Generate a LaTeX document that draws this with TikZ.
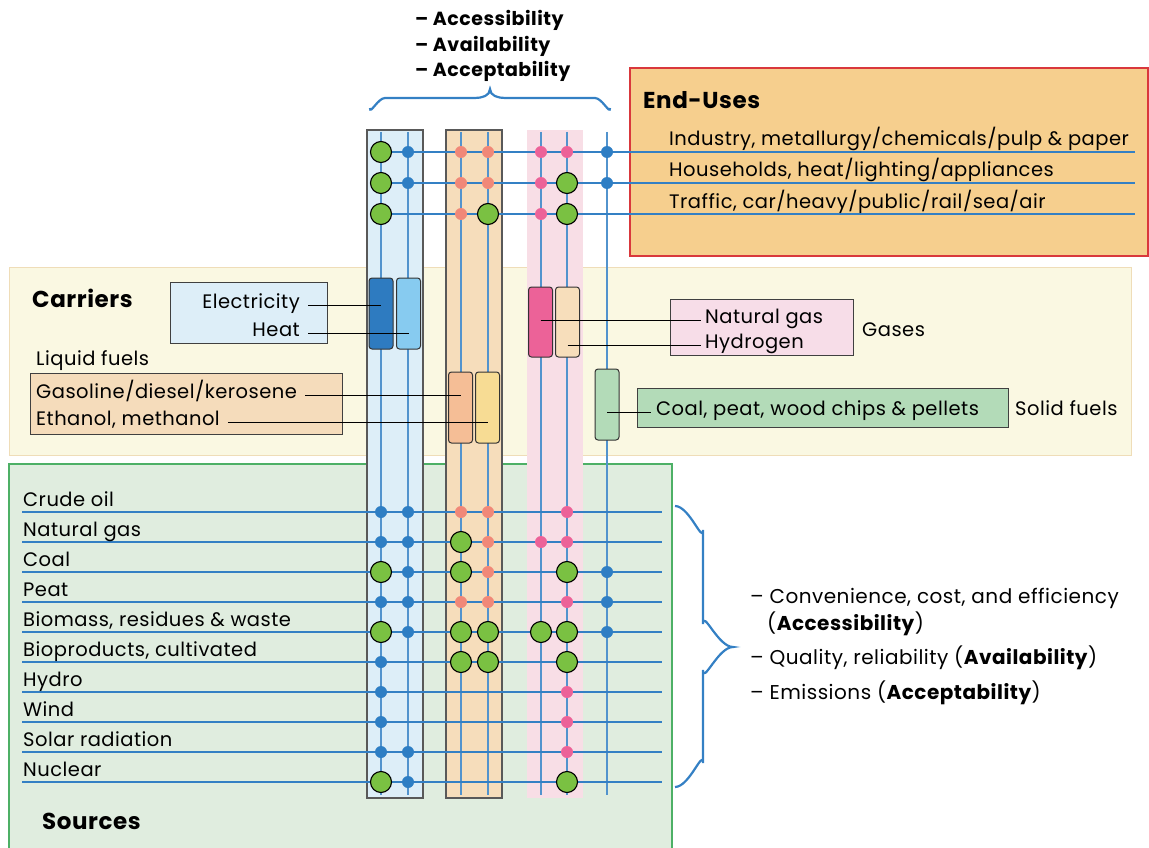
\documentclass[tikz,border=0pt]{standalone}
\usepackage{fontspec}
\setmainfont{Poppins}[LetterSpace=2.5]
\definecolor{lblue}{RGB}{52,128,196}
\definecolor{dblue}{RGB}{46,126,196}
\definecolor{dsalmon}{RGB}{240,136,120}
\definecolor{dpink}{RGB}{236,98,152}
\definecolor{dgreen}{RGB}{122,193,66}
\definecolor{colblue}{RGB}{221,238,248}
\definecolor{colorange}{RGB}{246,221,187}
\definecolor{colpink}{RGB}{248,222,230}
\definecolor{endfill}{RGB}{246,207,142}
\definecolor{endred}{RGB}{217,56,60}
\definecolor{carfill}{RGB}{250,248,226}
\definecolor{carline}{RGB}{239,221,184}
\definecolor{srcfill}{RGB}{224,237,223}
\definecolor{srcline}{RGB}{77,176,102}
\definecolor{elecc}{RGB}{46,123,192}
\definecolor{heatc}{RGB}{135,203,240}
\definecolor{ngasc}{RGB}{236,98,152}
\definecolor{hydc}{RGB}{247,222,187}
\definecolor{gasoc}{RGB}{245,190,150}
\definecolor{ethc}{RGB}{247,220,148}
\definecolor{solidc}{RGB}{179,219,184}
\definecolor{gasesbox}{RGB}{247,221,232}
\definecolor{liqbox}{RGB}{245,220,187}
\definecolor{elecbox}{RGB}{221,238,248}
\tikzset{
  x=1pt,y=-1pt,
  txt/.style={inner sep=0pt,anchor=base west,font=\fontsize{19.5}{22}\selectfont},
  txtr/.style={txt,anchor=base east},
  rtxt/.style={txt,font=\fontsize{20}{22}\selectfont},
  ttl/.style={inner sep=0pt,anchor=base west,font=\fontsize{23}{26}\selectfont\bfseries},
  qtxt/.style={txt,font=\fontsize{19}{22}\selectfont\bfseries},
  hline/.style={draw=lblue,line width=1.1pt},
  vline/.style={draw=lblue!85!white,line width=1.1pt},
  conn/.style={draw=black,line width=1pt},
  brace/.style={draw=lblue,line width=2.2pt},
  carbox/.style={draw=black!80,line width=1pt,rounded corners=3pt,minimum width=24pt,minimum height=71pt,inner sep=0pt},
  dotG/.style={circle,fill=dgreen,draw=black,line width=1.1pt,minimum size=21pt,inner sep=0pt},
  dotB/.style={circle,fill=dblue,minimum size=12pt,inner sep=0pt},
  dotS/.style={circle,fill=dsalmon,minimum size=12pt,inner sep=0pt},
  dotP/.style={circle,fill=dpink,minimum size=12pt,inner sep=0pt},
  dot0/.style={inner sep=0pt,minimum size=0pt},
}
\begin{document}
\begin{tikzpicture}
\useasboundingbox (0,0) rectangle (1149,848);
% panels
\fill[endfill] (630,68) rectangle (1148,256);
\draw[endred,line width=1.2pt] (630,68) rectangle (1148,256);
\filldraw[fill=carfill,draw=carline,line width=1pt] (9,267) rectangle (1131,455);
\filldraw[fill=srcfill,draw=srcline,line width=1.2pt] (9,464) rectangle (672,850);
% column boxes
\filldraw[fill=colblue,draw=black!65,line width=1.2pt] (367,130) rectangle (423,798);
\filldraw[fill=colorange,draw=black!65,line width=1.2pt] (446,130) rectangle (502,798);
\fill[colpink] (527,130) rectangle (583,798);
% vertical lines
\foreach \x [count=\i] in {381,408,461,488,541,567,607} {
  \coordinate (ct\i) at (\x,132);
  \coordinate (cb\i) at (\x,795);
  \draw[vline] (ct\i) -- (cb\i);
}
% end-use lines and labels
\node[ttl] (enduses) at (643,109) {End-Uses};
\foreach \y/\t [count=\i] in {152/{Industry, metallurgy/chemicals/pulp \& paper},183/{Households, heat/lighting/appliances},214/{Traffic, car/heavy/public/rail/sea/air}} {
  \coordinate (el\i) at (381,\y);
  \coordinate (er\i) at (1135,\y);
  \draw[hline] (el\i) -- (er\i);
  \node[txt] (eu\i) at (669,\y-6) {\t};
}
% source lines and labels
\foreach \y/\t [count=\i] in {512/Crude oil,542/Natural gas,572/Coal,602/Peat,632/{Biomass, residues \& waste},662/{Bioproducts, cultivated},692/Hydro,722/Wind,752/Solar radiation,782/Nuclear} {
  \coordinate (sl\i) at (22,\y);
  \coordinate (sr\i) at (662,\y);
  \draw[hline] (sl\i) -- (sr\i);
  \node[txt] (src\i) at (23,\y-6) {\t};
}
\node[ttl] (sources) at (42,829) {Sources};
\node[ttl] (carriers) at (32,307) {Carriers};
% carrier label boxes
\filldraw[fill=elecbox,draw=black!75,line width=1pt] (170,282) rectangle (327,343);
\node[txtr] (lelec) at (300,308) {Electricity};
\node[txtr] (lheat) at (300,336) {Heat};
\node[txt] (lliq) at (36,365) {Liquid fuels};
\filldraw[fill=liqbox,draw=black!75,line width=1pt] (30,373) rectangle (342,434);
\node[txt] (lgaso) at (36,398) {Gasoline/diesel/kerosene};
\node[txt] (leth) at (36,425) {Ethanol, methanol};
\filldraw[fill=gasesbox,draw=black!75,line width=1pt] (670,299) rectangle (853,355);
\node[txt] (lngas) at (705,323) {Natural gas};
\node[txt] (lhyd) at (705,348) {Hydrogen};
\node[txt] (lgases) at (862,336) {Gases};
\filldraw[fill=solidc,draw=black!75,line width=1pt] (637,388) rectangle (1008,427);
\node[txt] (lsolid) at (656,415) {Coal, peat, wood chips \& pellets};
\node[txt] (lsolidf) at (1015,415) {Solid fuels};
% carrier boxes
\node[carbox,fill=elecc] (belec) at (381,313.5) {};
\node[carbox,fill=heatc] (bheat) at (408.5,313.5) {};
\node[carbox,fill=ngasc,minimum height=70pt] (bngas) at (540.5,322) {};
\node[carbox,fill=hydc,minimum height=70pt] (bhyd) at (567.5,322) {};
\node[carbox,fill=gasoc] (bgaso) at (460.5,407.5) {};
\node[carbox,fill=ethc] (beth) at (487.5,407.5) {};
\node[carbox,fill=solidc] (bsolid) at (607,404.5) {};
% carrier connectors
\draw[conn] ([xshift=8pt]lelec.mid east) -- (lelec.mid east -| belec.center);
\draw[conn] ([xshift=8pt]lheat.mid east) -- (lheat.mid east -| bheat.center);
\draw[conn] ([xshift=8pt]lgaso.mid east) -- (lgaso.mid east -| bgaso.center);
\draw[conn] ([xshift=8pt]leth.mid east) -- (leth.mid east -| beth.center);
\draw[conn] (lngas.mid west -| bngas.center) -- ([xshift=-4pt]lngas.mid west);
\draw[conn] (lhyd.mid west -| bhyd.center) -- ([xshift=-4pt]lhyd.mid west);
\draw[conn] (lsolid.mid west -| bsolid.center) -- ([xshift=-5pt]lsolid.mid west);
% dots
\foreach \y/\codes [count=\r] in {
  152/{G,B,S,S,P,P,B},183/{G,B,S,S,P,G,B},214/{G,0,S,G,P,G,0},
  512/{B,B,S,S,0,P,0},542/{B,B,G,S,P,P,0},572/{G,B,G,S,0,G,B},602/{B,B,S,S,0,P,B},
  632/{G,B,G,G,G,G,B},662/{B,0,G,G,0,G,0},692/{B,0,0,0,0,P,0},722/{B,0,0,0,0,P,0},
  752/{B,B,0,0,0,P,0},782/{G,B,0,0,0,G,0}} {
  \foreach \c [count=\i] in \codes {
    \pgfmathsetmacro{\xx}{{381,408,461,488,541,567,607}[\i-1]}
    \node[dot\c] (d\r-\i) at (\xx,\y) {};
  }
}
% top text and brace
\node[qtxt] (q1) at (415,26) {– Accessibility};
\node[qtxt] (q2) at (415,52) {– Availability};
\node[qtxt] (q3) at (415,77) {– Acceptability};
\draw[brace] (370,108) to[out=-90,in=180] (385,98) -- (475,98) to[out=0,in=-90] (490,89) to[out=-90,in=180] (505,98) -- (595,98) to[out=0,in=-90] (610,108);
\draw[brace] (675,506) to[out=0,in=-90] (703,530) -- (703,624) to[out=90,in=180] (733,647) to[out=180,in=-90] (703,670) -- (703,763) to[out=90,in=0] (675,787);
\node[rtxt] (r1) at (750,603) {– Convenience, cost, and efficiency};
\node[rtxt] (r1b) at (767,630) {(\textbf{Accessibility})};
\node[rtxt] (r2) at (750,664) {– Quality, reliability (\textbf{Availability})};
\node[rtxt] (r3) at (750,699) {– Emissions (\textbf{Acceptability})};
\end{tikzpicture}
\end{document}
